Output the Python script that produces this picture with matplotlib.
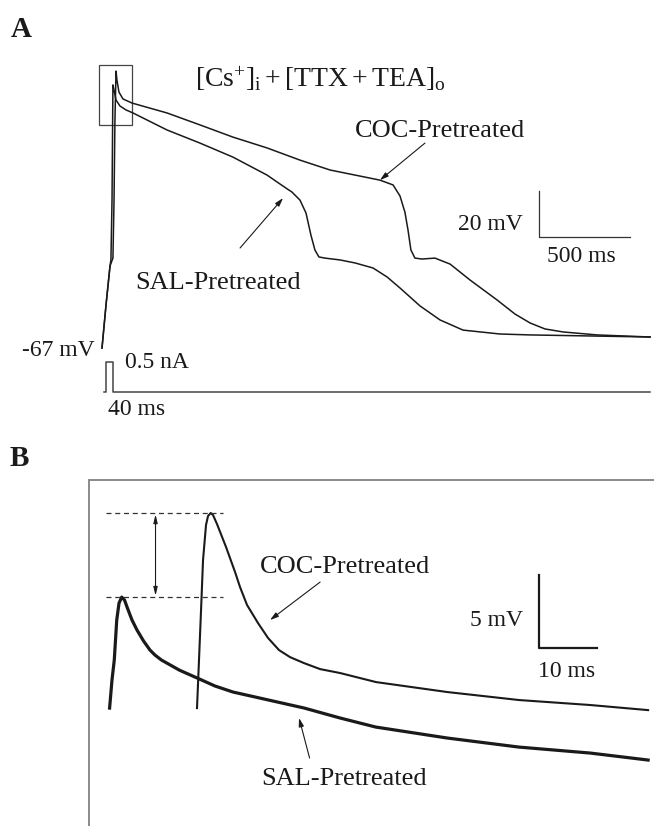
import matplotlib
matplotlib.use('Agg')
import numpy as np
import matplotlib.pyplot as plt
from matplotlib.patches import Rectangle

plt.rcParams['font.family'] = ['Liberation Serif', 'DejaVu Serif']
plt.rcParams['mathtext.fontset'] = 'custom'
plt.rcParams['mathtext.rm'] = 'Liberation Serif'
plt.rcParams['mathtext.it'] = 'Liberation Serif:italic'
plt.rcParams['mathtext.bf'] = 'Liberation Serif:bold'

# ---- Panel A data (time in ms, membrane potential in mV) ----
coc_a_t = [0, 22, 44, 60, 66, 71, 77, 82, 93, 115, 165, 357, 538, 719, 906, 1087,
           1252, 1526, 1598, 1636, 1663, 1680, 1696, 1718, 1757, 1828, 1911, 2020,
           2169, 2267, 2350, 2432, 2531, 2718, 3009]
coc_a_v = [-67.0, -48.3, -31.3, -27.9, -2.7, 32.1, 53.4, 49.5, 44.3, 41.3, 39.5, 35.2,
           30.0, 24.7, 20.0, 14.7, 10.4, 6.0, 3.9, -0.9, -7.9, -15.7, -24.4, -27.9,
           -28.3, -27.9, -30.5, -37.4, -46.1, -52.2, -56.1, -58.7, -60.0, -61.3, -62.2]

sal_a_t = [0, 22, 44, 49, 55, 58, 60, 66, 77, 99, 132, 170, 357, 538, 719, 906, 994,
           1043, 1087, 1120, 1147, 1169, 1191, 1224, 1307, 1389, 1488, 1565, 1636,
           1746, 1856, 1982, 2185, 2350, 3009]
sal_a_v = [-67.0, -48.3, -31.3, -28.7, -2.7, 27.8, 47.4, 45.2, 40.8, 38.2, 36.5, 35.2,
           27.8, 22.1, 16.0, 8.2, 3.4, 0.8, -2.7, -8.3, -17.9, -24.4, -27.4, -27.9,
           -28.7, -30.0, -32.2, -36.1, -40.9, -48.7, -54.8, -59.2, -60.9, -61.3, -62.2]

# injected current (nA)
cur_t = [11, 22, 22, 60, 60, 3009]
cur_i = [0, 0, 0.5, 0.5, 0, 0]

# ---- Panel B data (expanded view of the spike peak) ----
coc_b_t = [18.46, 18.80, 19.15, 19.49, 20.00, 20.34, 20.80, 21.20, 21.88, 23.42, 24.96,
           25.81, 27.01, 28.89, 30.60, 32.48, 34.36, 36.75, 39.49, 42.91, 49.06, 61.20,
           73.50, 85.64, 95.56]
coc_b_v = [3.56, 6.85, 10.27, 13.70, 16.10, 16.71, 16.92, 16.78, 16.16, 14.59, 12.88,
           11.85, 10.62, 9.38, 8.36, 7.53, 7.05, 6.64, 6.23, 5.96, 5.34, 4.66, 4.11,
           3.77, 3.42]

sal_b_t = [3.52, 3.93, 4.32, 4.74, 5.13, 5.59, 6.07, 6.50, 7.35, 8.21, 9.33, 10.43,
           11.28, 12.38, 15.44, 18.48, 21.54, 24.60, 30.70, 36.80, 42.91, 49.01, 61.21,
           73.44, 85.64, 95.56]
sal_b_v = [3.56, 5.48, 6.85, 9.59, 10.75, 11.16, 10.96, 10.48, 9.59, 8.90, 8.15, 7.53,
           7.19, 6.85, 6.16, 5.62, 5.07, 4.66, 4.11, 3.56, 2.88, 2.26, 1.51, 0.89, 0.48,
           0.00]

W, H = 654, 826
fig = plt.figure(figsize=(W / 100, H / 100), dpi=100)
ink = '#1a1a1a'


def box(x0, y0, x1, y1):
    return [x0 / W, 1 - y1 / H, (x1 - x0) / W, (y1 - y0) / H]


def label(x, y, s, size=19, **kw):
    fig.text(x / W, 1 - y / H, s, ha='left', va='baseline', fontsize=size,
             color=ink, **kw)


def clean(ax):
    ax.set_xticks([])
    ax.set_yticks([])
    for s in ax.spines.values():
        s.set_visible(False)
    ax.patch.set_alpha(0)


# ---------------- Panel A ----------------
axA = fig.add_axes(box(90, 55, 654, 360))
axA.set_xlim(-65.9, 3030.5)
axA.set_ylim(-72.2, 60.4)
clean(axA)
axA.plot(coc_a_t, coc_a_v, color=ink, lw=1.1)
axA.plot(sal_a_t, sal_a_v, color=ink, lw=1.1)
axA.add_patch(Rectangle((-16.5, 30.0), 181.2, 26.0, fill=False, ec='#444444', lw=0.9))

# scale bar 500 ms / 20 mV
sx, sy = 2399, -18.7
axA.plot([sx, sx, sx + 500], [sy + 20, sy, sy], color='#333333', lw=0.9)

axA.annotate('', xy=(1526, 6.0), xytext=(1773, 22.1),
             arrowprops=dict(arrowstyle='-|>,head_length=0.5,head_width=0.15',
                             color=ink, lw=0.8, shrinkA=0, shrinkB=0))
axA.annotate('', xy=(994, -1.8), xytext=(758, -23.5),
             arrowprops=dict(arrowstyle='-|>,head_length=0.5,head_width=0.15',
                             color=ink, lw=0.8, shrinkA=0, shrinkB=0))

axI = fig.add_axes(box(90, 355, 654, 405))
axI.set_xlim(-65.9, 3030.5)
axI.set_ylim(-0.217, 0.617)
clean(axI)
axI.plot(cur_t, cur_i, color='#444444', lw=1.1)

label(11, 37, 'A', size=21, fontweight='bold')
label(195, 87, r'$[\mathrm{Cs}^{+}]_{\mathrm{i}} + [\mathrm{TTX} + \mathrm{TEA}]_{\mathrm{o}}$', size=20)
label(355, 137, 'COC-Pretreated')
label(135, 289, 'SAL-Pretreated')
label(458, 230, '20 mV', size=17)
label(547, 262, '500 ms', size=17)
label(22, 356, '-67 mV', size=17)
label(125, 368, '0.5 nA', size=17)
label(108, 415, '40 ms', size=17)

# ---------------- Panel B ----------------
axB = fig.add_axes(box(89, 480, 670, 850))
axB.set_xlim(0, 99.3)
axB.set_ylim(-6.16, 19.18)
axB.set_xticks([])
axB.set_yticks([])
for side in ['right', 'bottom']:
    axB.spines[side].set_visible(False)
for side in ['left', 'top']:
    axB.spines[side].set_color('#8a8a8a')
    axB.spines[side].set_linewidth(1.4)

axB.plot(coc_b_t, coc_b_v, color=ink, lw=1.5)
axB.plot(sal_b_t, sal_b_v, color=ink, lw=2.3)

coc_peak = max(coc_b_v)
sal_peak = max(sal_b_v)
for pk in (coc_peak, sal_peak):
    axB.plot([2.9, 22.9], [pk, pk], color='#333333', lw=0.9, ls=(0, (4, 3)))
axB.annotate('', xy=(11.37, coc_peak), xytext=(11.37, sal_peak),
             arrowprops=dict(arrowstyle='<|-|>,head_length=0.5,head_width=0.12',
                             color=ink, lw=0.8, shrinkA=1, shrinkB=1))

# scale bar 10 ms / 5 mV
bx, by = 76.9, 7.67
axB.plot([bx, bx, bx + 10], [by + 5, by, by], color=ink, lw=1.6)

axB.annotate('', xy=(30.94, 9.59), xytext=(39.5, 12.19),
             arrowprops=dict(arrowstyle='-|>,head_length=0.5,head_width=0.15',
                             color=ink, lw=0.8, shrinkA=0, shrinkB=0))
axB.annotate('', xy=(35.9, 2.88), xytext=(37.7, 0.14),
             arrowprops=dict(arrowstyle='-|>,head_length=0.5,head_width=0.15',
                             color=ink, lw=0.8, shrinkA=0, shrinkB=0))

label(10, 466, 'B', size=21, fontweight='bold')
label(260, 573, 'COC-Pretreated')
label(261, 785, 'SAL-Pretreated')
label(470, 626, '5 mV', size=17)
label(538, 677, '10 ms', size=17)

fig.savefig('out.png', dpi=100, facecolor='white')
